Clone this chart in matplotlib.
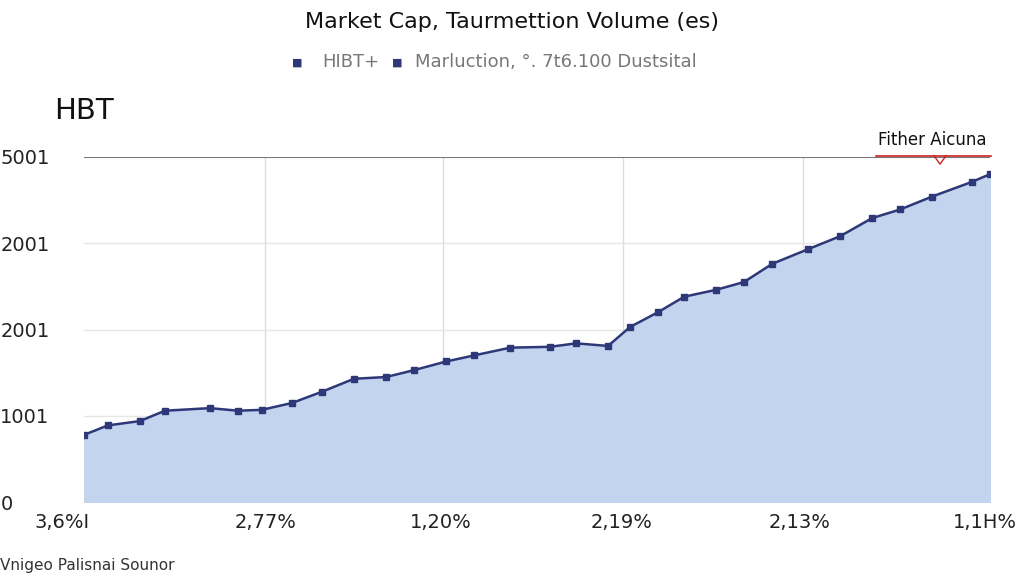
import matplotlib
matplotlib.use("Agg")
import matplotlib.pyplot as plt
import matplotlib.transforms as mtrans

x_vals = [0,0.79,1.85,2.68,4.17,5.1,5.89,6.89,7.88,8.94,10.0,10.93,11.99,12.91,14.11,15.43,
          16.29,17.35,18.08,19.0,19.87,20.93,21.85,22.78,23.97,25.03,26.09,27.02,28.08,29.4,30]
y_vals = [0.78,0.89,0.94,1.06,1.09,1.06,1.07,1.15,1.28,1.43,1.45,1.53,1.63,1.70,1.79,1.80,
          1.84,1.81,2.03,2.20,2.38,2.46,2.55,2.76,2.93,3.08,3.29,3.39,3.54,3.71,3.80]
y_ticks = [0, 1, 2, 3, 4]
y_tick_labels = ["0", "1001", "2001", "2001", "5001"]
x_ticks = [0, 6, 11.8, 17.8, 23.7, 30]
x_tick_labels = ["3,6%I", "2,77%", "1,20%", "2,19%", "2,13%", "1,1H%"]

fig = plt.figure(figsize=(10.24, 5.76), dpi=100)
ax = fig.add_axes([0.082, 0.128, 0.885, 0.5998])
ax.fill_between(x_vals, y_vals, 0, color="#c3d4ef")
ax.plot(x_vals, y_vals, color="#2e3878", lw=1.8, marker="s", ms=4)
for gx in [6, 11.9, 17.85, 23.8]:
    ax.axvline(gx, color="#dddddd", lw=1, zorder=0)
for gy in [1, 2, 3]:
    ax.axhline(gy, color="#e6e6e6", lw=1, zorder=0)
ax.axhline(4, color="#777777", lw=1.5)
for s in ax.spines.values():
    s.set_visible(False)
ax.set_yticks(y_ticks)
ax.set_yticklabels(y_tick_labels, fontsize=14, color="#222222")
ax.set_xticks(x_ticks)
ax.set_xticklabels(x_tick_labels, fontsize=14, color="#222222")
ax.set_xlim(0, 30)
ax.set_ylim(0, 4)
ax.tick_params(length=0, pad=8)
for lbl in ax.get_yticklabels():
    lbl.set_horizontalalignment("left")
    lbl.set_x(-0.08)
xl = ax.get_xticklabels()
xl[0].set_transform(xl[0].get_transform() + mtrans.ScaledTranslation(-0.22, 0, fig.dpi_scale_trans))
xl[-1].set_transform(xl[-1].get_transform() + mtrans.ScaledTranslation(-0.05, 0, fig.dpi_scale_trans))

fig.text(0.5, 0.962, "Market Cap, Taurmettion Volume (es)", ha="center", va="center", fontsize=16, color="#111111")
fig.text(0.29, 0.892, "■", ha="center", va="center", fontsize=8, color="#2e3878")
fig.text(0.315, 0.892, "HIBT+", ha="left", va="center", fontsize=13, color="#777777")
fig.text(0.388, 0.892, "■", ha="center", va="center", fontsize=8, color="#2e3878")
fig.text(0.405, 0.892, "Marluction, °. 7t6.100 Dustsital", ha="left", va="center", fontsize=13, color="#777777")
fig.text(0.053, 0.808, "HBT", ha="left", va="center", fontsize=21, color="#111111")
fig.text(0.91, 0.757, "Fither Aicuna", ha="center", va="center", fontsize=12, color="#111111")
fig.lines.append(plt.Line2D([0.855, 0.968], [0.73, 0.73], color="#cc2222", lw=1.2, transform=fig.transFigure))
fig.lines.append(plt.Line2D([0.912, 0.918, 0.924], [0.73, 0.715, 0.73], color="#cc2222", lw=1, transform=fig.transFigure))
fig.text(0.0, 0.005, "Vnigeo Palisnai Sounor", ha="left", va="bottom", fontsize=11, color="#333333")
fig.savefig("out.png", dpi=100)
